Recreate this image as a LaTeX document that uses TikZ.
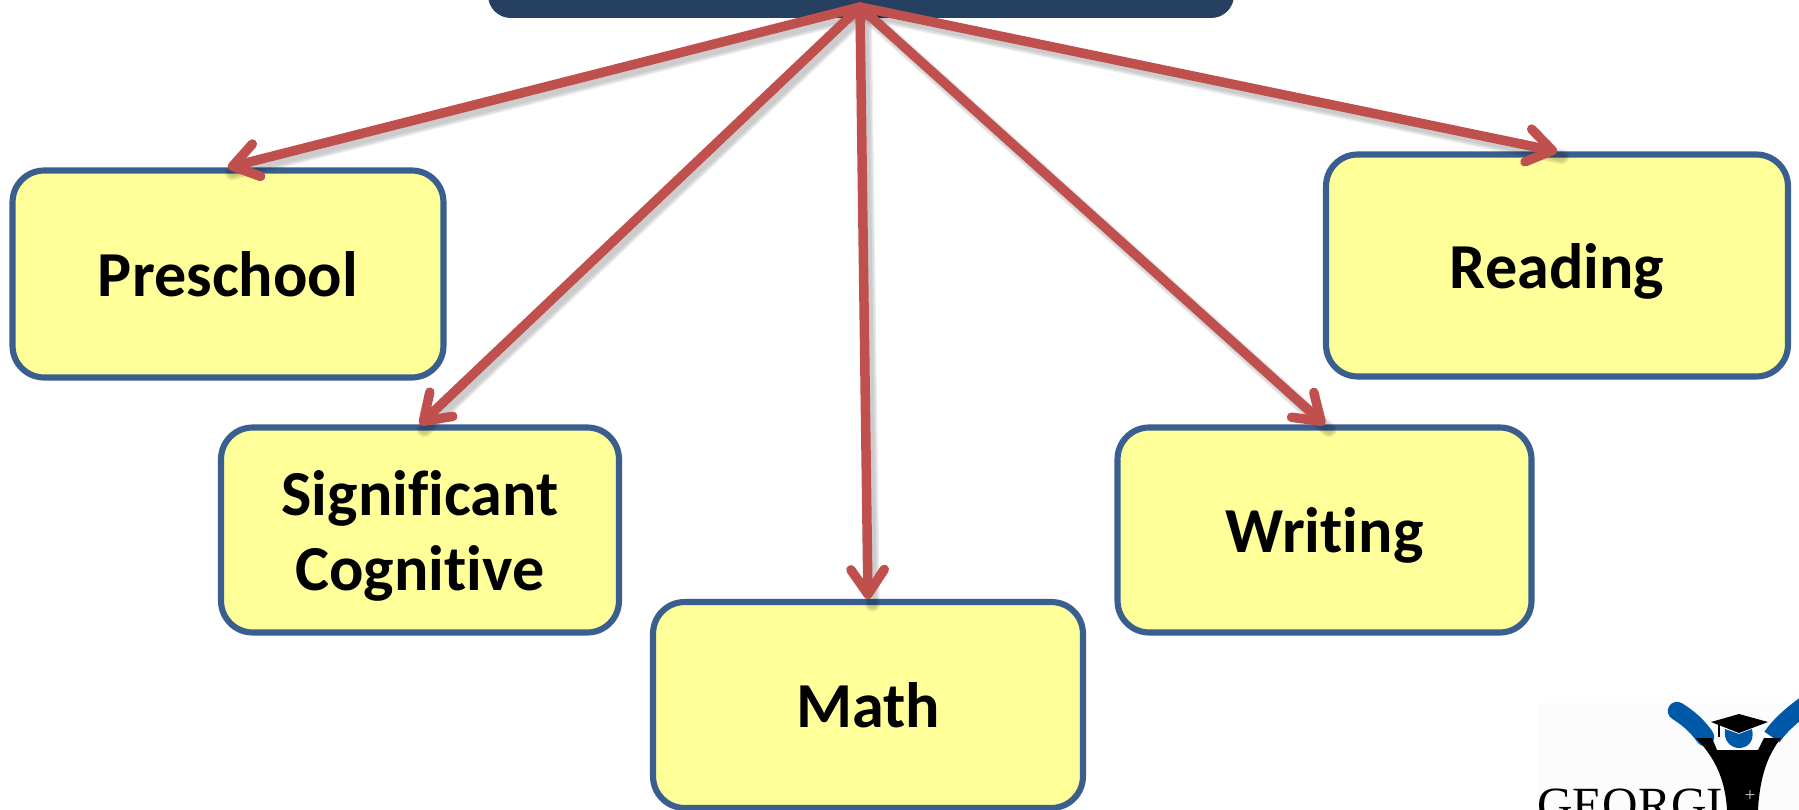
\documentclass[tikz,border=0pt]{standalone}
\usepackage{fontspec}
\setmainfont[Ligatures=NoCommon]{Carlito}
\newfontfamily\logofont{Liberation Serif}
\usetikzlibrary{arrows.meta,calc}
\definecolor{boxfill}{HTML}{FFFF99}
\definecolor{boxline}{HTML}{3A5F8F}
\definecolor{arrowred}{HTML}{C0504D}
\definecolor{titleblue}{HTML}{264061}
\definecolor{logoblue}{HTML}{0058A8}
\newcommand\cardline[1]{\raisebox{0pt}[28pt][2pt]{#1}}
\tikzset{
  x=0.02cm,y=-0.02cm,
  card/.style={draw=boxline,fill=boxfill,line width=3.5pt,rounded corners=18pt,align=center,
    font=\fontsize{36.5}{43}\selectfont\bfseries,inner sep=0pt,text=black},
  link/.style={draw=arrowred,line width=5.4pt,line cap=round,
    -{Straight Barb[length=14pt,width=19pt,line width=5.4pt,round]}},
  linkshade/.style={draw=black,opacity=.07,line cap=round},
}
\begin{document}
\begin{tikzpicture}
\useasboundingbox (0,0) rectangle (1799,810);
\clip (0,0) rectangle (1799,810);
\fill[white] (0,0) rectangle (1799,810);
% logo
\fill[white!99!black] (1538,703) rectangle (1799,810);
\node[anchor=base west,inner sep=0pt,font=\logofont\fontsize{28}{28}\selectfont,text=black] (logotext) at (1537,821) {GEORGIA};
\draw[logoblue,line width=10.5pt,line cap=round] (1677,711) .. controls (1690,719) and (1698,727) .. (1705,737);
\draw[logoblue,line width=10.5pt,line cap=butt] (1810,702) .. controls (1795,712) and (1780,725) .. (1772,737);
\fill[black] (1696,738) -- (1712,738) -- (1717,750) -- (1758,750) -- (1764,738) -- (1781,738)
  .. controls (1768,755) and (1760,775) .. (1758,810) -- (1727,810) .. controls (1725,775) and (1712,755) .. (1696,738) -- cycle;
\fill[logoblue] (1725,729) .. controls (1723,742) and (1732,748) .. (1739,748) .. controls (1747,748) and (1755,742) .. (1752,729) -- (1739,734) -- cycle;
\fill[black] (1711,722) -- (1739,714) -- (1768,722) -- (1739,733) -- cycle;
\draw[black,line width=0.8pt] (1719,723) -- (1719,737);
\node[inner sep=0pt,font=\logofont\fontsize{11}{11}\selectfont,text=white!80!black] (logoplus) at (1750,796) {+};
% nodes
\fill[titleblue,rounded corners=13pt] (488,-60) rectangle (1234,18);
\coordinate (apex) at (860,7);
\node[card,minimum width=8.62cm,minimum height=4.14cm] (pre) at (228,274) {\cardline{Preschool}};
\node[card,minimum width=7.96cm,minimum height=4.10cm] (sig) at (420,530) {\cardline{Significant}\\\cardline{Cognitive}};
\node[card,minimum width=8.60cm,minimum height=4.12cm] (math) at (868,705) {\cardline{Math}};
\node[card,minimum width=8.28cm,minimum height=4.10cm] (wri) at (1324.5,530) {\cardline{Writing}};
\node[card,minimum width=9.24cm,minimum height=4.44cm] (rea) at (1557,265.5) {\cardline{Reading}};
% connector shadows
\foreach \t in {pre,sig,math,wri,rea}{
  \foreach \w in {8.5pt,7pt,5pt}{
    \draw[linkshade,line width=\w] ([xshift=2.5pt,yshift=-3pt]apex) -- ([xshift=2.5pt,yshift=-3pt]\t.north);
  }
}
% connectors
\draw[link] (apex) -- (pre.north);
\draw[link] (apex) -- (sig.north);
\draw[link] (apex) -- (math.north);
\draw[link] (apex) -- (wri.north);
\draw[link] (apex) -- (rea.north);
\end{tikzpicture}
\end{document}
